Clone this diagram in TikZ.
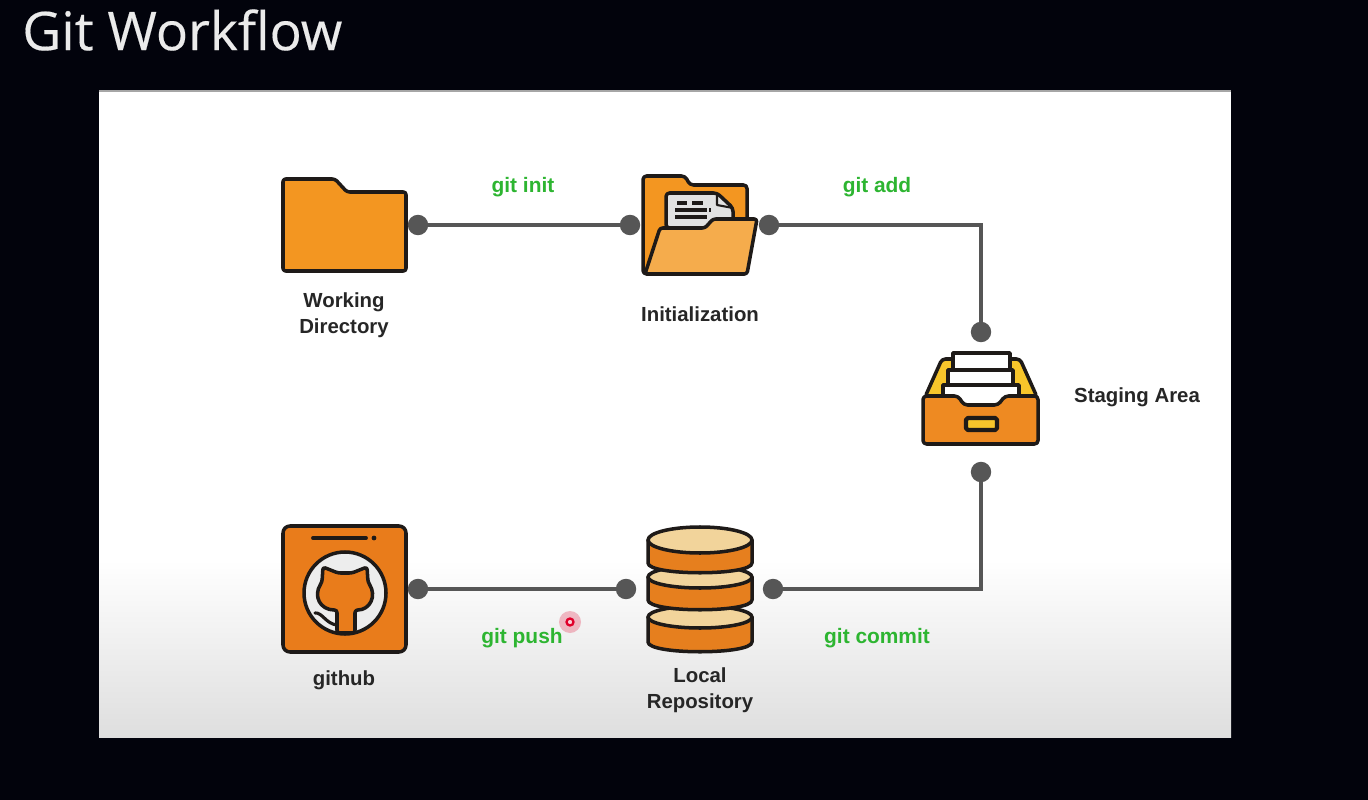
\documentclass[tikz,border=0pt]{standalone}
\usepackage{fontspec}
\setmainfont{Liberation Sans}
\newfontfamily\titlefont[FakeBold=0.3]{Open Sans}
\usetikzlibrary{positioning}
\definecolor{slidebg}{HTML}{02030C}
\definecolor{panelend}{HTML}{DEDEDE}
\definecolor{inkline}{HTML}{1E1A18}
\definecolor{linkgray}{HTML}{565656}
\definecolor{cmdgreen}{HTML}{2DB531}
\definecolor{folderor}{HTML}{F39621}
\definecolor{flapor}{HTML}{F5AC4C}
\definecolor{boxor}{HTML}{EE8A22}
\definecolor{hubor}{HTML}{E97C1B}
\definecolor{diskor}{HTML}{E67F1E}
\definecolor{disktop}{HTML}{F2D49B}
\definecolor{trayyel}{HTML}{F7C52B}
\definecolor{papergray}{HTML}{E2E2E2}
\definecolor{cursorred}{HTML}{E0002A}
\tikzset{
  port/.style={circle,fill=linkgray,minimum size=20.5*0.567pt,inner sep=0pt,outer sep=-1pt},
  link/.style={draw=linkgray,line width=2.2pt},
  iconline/.style={draw=inkline,line width=2pt,line join=round},
  iconname/.style={font=\fontsize{11.6}{14.8}\selectfont\bfseries,text=black!85,align=center,inner sep=0pt},
  cmd/.style={font=\fontsize{11.9}{14}\selectfont\bfseries,text=cmdgreen,inner sep=0pt},
}

\begin{document}
\begin{tikzpicture}[x=0.02cm,y=-0.02cm]
\useasboundingbox (0,0) rectangle (1368,800);
%---------------- slide and panel
\fill[slidebg] (0,0) rectangle (1368,800);
\fill[white] (99,91) rectangle (1231,560);
\shade[top color=white,bottom color=panelend] (99,560) rectangle (1231,737.5);
\draw[gray!70,line width=0.6pt] (99,91) -- (1231,91);
\node[font=\titlefont\fontsize{30.4}{32}\selectfont,text=black!8,anchor=west,inner sep=0pt] (title) at (22,30) {Git Workflow};

%---------------- working directory
\draw[iconline,fill=folderor,rounded corners=1.5] (283,179) -- (335,179) -- (347,192) -- (406,192) -- (406,271) -- (283,271) -- cycle;
\node[iconname] (workname) at (344,315) {Working\\Directory};

%---------------- initialization
\draw[iconline,fill=folderor,rounded corners=2] (643,274) -- (643,176) -- (685,176) -- (690,185) -- (747,185) -- (747,274) -- cycle;
% paper
\draw[iconline,fill=papergray,rounded corners=2] (666,228) -- (666,193) -- (717,193) -- (733,208) -- (733,228) -- cycle;
\draw[iconline,line width=1.2pt] (717,193) -- (717,205) -- (733,208);
\draw[inkline,line width=1.8pt] (677,203) -- (687,203) (692,203) -- (703,203);
\draw[inkline,line width=1.8pt] (675,210) -- (707,210) (709,210) -- (711,210);
\draw[inkline,line width=1.8pt] (675,217) -- (707,217);
% front flap
\draw[iconline,fill=flapor,rounded corners=1.5] (645,274) -- (660,228) -- (705,228) -- (713,219) -- (757,219) -- (747,274) -- cycle;
\node[iconname] (initname) at (700,314) {Initialization};

%---------------- staging area
\draw[iconline,fill=trayyel,rounded corners=2] (925,397) -- (942,359) -- (952,359) -- (1010,359) -- (1020,359) -- (1037,397) -- cycle;
\draw[iconline,fill=white] (953,353) rectangle (1010,372);
\draw[iconline,fill=white] (948,370) rectangle (1013,385);
\draw[iconline,fill=white] (943,385) rectangle (1019,410);
\draw[iconline,fill=boxor,rounded corners=2] (923,396) -- (958,396) -- (964,405) -- (998,405) -- (1005,396) -- (1038,396) -- (1038,444) -- (923,444) -- cycle;
\draw[iconline,fill=trayyel,line width=2.4pt,rounded corners=1] (966,418) rectangle (997,430);
\node[iconname] (stagename) at (1137,397) {Staging Area};

%---------------- local repository
\foreach \ytop/\ybot/\yrad in {617/642/11,577/600/11,540/563/13}{
  \draw[iconline,fill=diskor] (648,\ytop) -- (648,\ybot) .. controls (648,\ybot+13) and (752,\ybot+13) .. (752,\ybot) -- (752,\ytop) -- cycle;
  \draw[iconline,fill=disktop] (700,\ytop) ellipse (52 and \yrad);
}
\node[iconname] (reponame) at (700,690) {Local\\Repository};

%---------------- github
\draw[iconline,fill=hubor,rounded corners=4] (283,526) rectangle (406,652);
\draw[inkline,line width=2.2pt,line cap=round] (313,538) -- (366,538);
\fill[inkline] (374,538) circle (2.4);
\draw[iconline,fill=white!93!black] (345,593) circle (41);
% cat
\draw[iconline,fill=hubor,rounded corners=1.5] (323,567) -- (338,573) -- (352,573) -- (367,567) -- (368,582) .. controls (377,596) and (370,610) .. (355,610) -- (355,633) -- (337,633) -- (337,610) .. controls (320,610) and (313,596) .. (322,582) -- cycle;
\draw[inkline,line width=1.8pt,line cap=round] (315,613) .. controls (322,612) and (326,624) .. (337,625);
\node[iconname] (hubname) at (344,680) {github};

%---------------- connectors
\node[port] (workport) at (418,225) {};
\node[port] (initin) at (630,225) {};
\node[port] (initout) at (769,225) {};
\node[port] (stagein) at (981,332) {};
\node[port] (stageout) at (981,472) {};
\node[port] (repoin) at (773,589) {};
\node[port] (repoout) at (626,589) {};
\node[port] (hubport) at (418,589) {};
\draw[link] (workport) -- (initin);
\draw[link] (initout) -| (stagein);
\draw[link] (stageout) |- (repoin);
\draw[link] (repoout) -- (hubport);

%---------------- commands
\node[cmd] (initcmd) at (523,187) {git init};
\node[cmd] (addcmd) at (877,187) {git add};
\node[cmd] (pushcmd) at (522,638) {git push};
\node[cmd] (commitcmd) at (877,638) {git commit};

%---------------- pointer
\fill[cursorred,opacity=0.25] (570,622) circle (11);
\draw[cursorred,line width=1.3pt,fill=white!80!cursorred] (570,622) circle (3.5);
\end{tikzpicture}
\end{document}
